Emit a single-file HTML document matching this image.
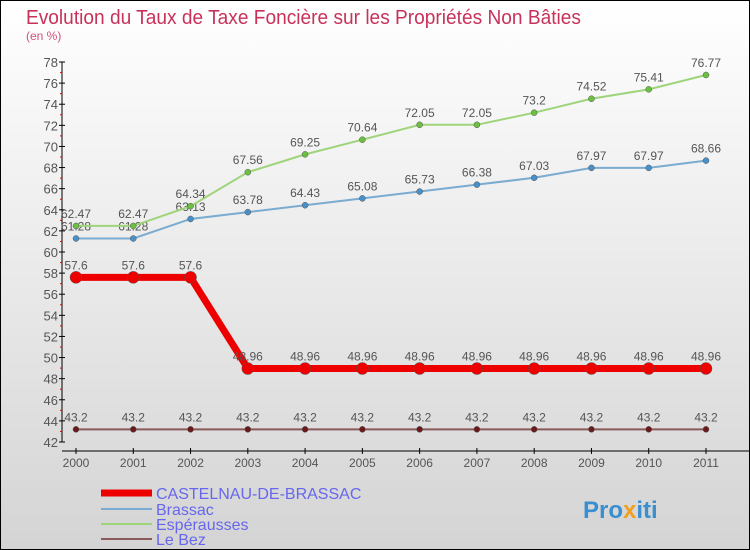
<!DOCTYPE html>
<html><head><meta charset="utf-8"><style>
body{margin:0}
#c{width:748px;height:548px;border:1px solid #000;background:linear-gradient(#fff,#d4d4d4);position:relative;font-family:"Liberation Sans",sans-serif;overflow:hidden}
svg text{font-family:"Liberation Sans",sans-serif}
</style></head><body>
<div id="c">
<svg id="s" width="748" height="548" xmlns="http://www.w3.org/2000/svg">
<text x="25" y="23" font-size="20" fill="#c8325a" textLength="555" lengthAdjust="spacingAndGlyphs">Evolution du Taux de Taxe Foncière sur les Propriétés Non Bâties</text>
<text x="25" y="39" font-size="12" fill="#d0507a">(en %)</text>
<g id="axes"></g><g id="series"></g>
<g>
<line x1="100" y1="492" x2="151" y2="492" stroke="#e00" stroke-width="7"/>
<text x="155" y="498" font-size="16" fill="#6666ee">CASTELNAU-DE-BRASSAC</text>
<line x1="100" y1="508" x2="151" y2="508" stroke="#7aabd0" stroke-width="2"/>
<text x="155" y="514" font-size="16" fill="#6666ee">Brassac</text>
<line x1="100" y1="523" x2="151" y2="523" stroke="#9ed47a" stroke-width="2"/>
<text x="155" y="529" font-size="16" fill="#6666ee">Espérausses</text>
<line x1="100" y1="538" x2="151" y2="538" stroke="#8a5a5a" stroke-width="2"/>
<text x="155" y="544" font-size="16" fill="#6666ee">Le Bez</text>
</g>
<text x="582" y="517" font-size="24" font-weight="bold" fill="#3a8fd0">Pro<tspan fill="#f0a020">x</tspan>iti</text>
</svg>
</div>
<script>
const years=["2000","2001","2002","2003","2004","2005","2006","2007","2008","2009","2010","2011"];
const castelnau=[57.6,57.6,57.6,48.96,48.96,48.96,48.96,48.96,48.96,48.96,48.96,48.96];
const brassac=[61.28,61.28,63.13,63.78,64.43,65.08,65.73,66.38,67.03,67.97,67.97,68.66];
const esperausses=[62.47,62.47,64.34,67.56,69.25,70.64,72.05,72.05,73.2,74.52,75.41,76.77];
const lebez=[43.2,43.2,43.2,43.2,43.2,43.2,43.2,43.2,43.2,43.2,43.2,43.2];
const yTicks=[42,44,46,48,50,52,54,56,58,60,62,64,66,68,70,72,74,76,78];
const NS="http://www.w3.org/2000/svg";
const X=i=>75+i*(630/(years.length-1));
const Y=v=>441-(v-42)*380/36;
function mk(t,a,p){const e=document.createElementNS(NS,t);for(const k in a)e.setAttribute(k,a[k]);p.appendChild(e);return e;}
const ax=document.getElementById('axes'),sg=document.getElementById('series');
let e=mk('line',{x1:61,y1:Y(78),x2:61,y2:Y(42),stroke:'#000'},ax);


e=mk('line',{x1:61,y1:450,x2:748,y2:450,stroke:'#000'},ax);


yTicks.forEach((v,i)=>{
 mk('line',{x1:58,y1:Y(v),x2:64,y2:Y(v),stroke:'#000'},ax);
 if(i<yTicks.length-1)mk('line',{x1:59,y1:Y(v+1),x2:61,y2:Y(v+1),stroke:'#e00'},ax);
 const t=mk('text',{x:57,y:Y(v)+5,'font-size':13,fill:'#555','text-anchor':'end'},ax);t.textContent=v;
 
 
});
years.forEach((y,i)=>{
 mk('line',{x1:X(i),y1:447,x2:X(i),y2:453,stroke:'#000'},ax);
 const t=mk('text',{x:X(i),y:466,'font-size':12,fill:'#555','text-anchor':'middle'},ax);t.textContent=y;
 
 
});
function series(data,color,w,r,dot,name){
 const g=mk('g',{},sg);
 
 
 mk('polyline',{points:data.map((v,i)=>X(i)+','+Y(v)).join(' '),fill:'none',stroke:color,'stroke-width':w},g);
 data.forEach((v,i)=>{
  const c=mk('circle',{cx:X(i),cy:Y(v),r:r,fill:dot,stroke:'#555','stroke-width':0.5},g);
  
  
  const t=mk('text',{x:X(i),y:Y(v)-8,'font-size':12,fill:'#555','text-anchor':'middle'},g);t.textContent=v;
  
  
 });
}
series(lebez,'#8a5a5a',2,3,'#6a1a1a','le-bez-series');
series(brassac,'#7aabd0',2,3,'#4a90c8','brassac-series');
series(esperausses,'#9ed47a',2,3,'#6cc040','esperausses-series');
series(castelnau,'#e00',7,6,'#e00','castelnau-series');
</script>
</body></html>
